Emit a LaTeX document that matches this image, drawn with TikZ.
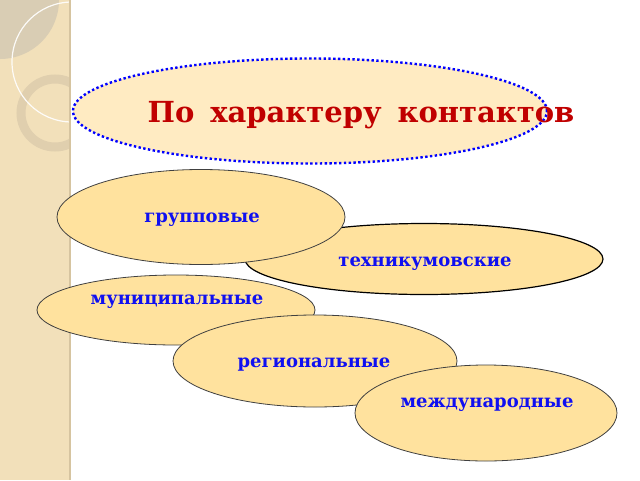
\documentclass[tikz,border=0pt]{standalone}
\usepackage{fontspec}
\setmainfont{DejaVu Serif}
\usetikzlibrary{shapes.geometric}
\definecolor{strip}{HTML}{F2E0BA}
\definecolor{stripedge}{HTML}{D6C4A0}
\definecolor{quad}{HTML}{D9CDB4}
\definecolor{ringc}{HTML}{E0CFAE}
\definecolor{titlefill}{HTML}{FFEBC2}
\definecolor{ovalfill}{HTML}{FFE29E}
\definecolor{titlered}{HTML}{C00000}
\definecolor{textblue}{HTML}{1010F0}
\tikzset{
  oval/.style={ellipse, draw=black!75, line width=0.8pt, fill=ovalfill, inner sep=0pt},
  ovaltext/.style={font=\bfseries\fontsize{18}{20}\selectfont, text=textblue, inner sep=0pt, anchor=base},
}
\begin{document}
\begin{tikzpicture}[x=1pt,y=-1pt]
\useasboundingbox (0,0) rectangle (640,480);
\fill[white] (0,0) rectangle (640,480);
% left strip
\fill[strip] (0,0) rectangle (70,480);
\begin{scope}
\clip (0,0) rectangle (70,480);
\fill[quad] (0,0) circle (59);
\draw[ringc, line width=9pt] (55,113) circle (34);
\draw[white, line width=1.2pt, opacity=0.9] (72,62) circle (60);
\end{scope}
\draw[stripedge, line width=1.5pt] (70,0) -- (70,480);
% title
\node[ellipse, draw=blue, line width=2.4pt, dash pattern=on 2.4pt off 2.4pt, fill=titlefill,
      minimum width=474, minimum height=105, inner sep=0pt] (title) at (310,111) {};
\node[font=\bfseries\fontsize{29}{32}\selectfont, text=titlered, inner sep=0pt, anchor=base] (titletext) at (361,122) {По\hspace{0.55em}характеру\hspace{0.55em}контактов};
% ovals
\node[oval, draw=black, line width=1.2pt, minimum width=358, minimum height=71] (tech) at (424,259) {};
\node[ovaltext] (techtext) at (425,266.5) {техникумовские};
\node[oval, minimum width=288, minimum height=95] (group) at (201,217) {};
\node[ovaltext] (grouptext) at (202,222.5) {групповые};
\node[oval, minimum width=278, minimum height=70] (mun) at (176,310) {};
\node[ovaltext] (muntext) at (177,304.5) {муниципальные};
\node[oval, minimum width=284, minimum height=92] (reg) at (315,361) {};
\node[ovaltext] (regtext) at (314,367) {региональные};
\node[oval, minimum width=262, minimum height=96] (intl) at (486,413) {};
\node[ovaltext] (intltext) at (487,407.5) {международные};
\end{tikzpicture}
\end{document}
